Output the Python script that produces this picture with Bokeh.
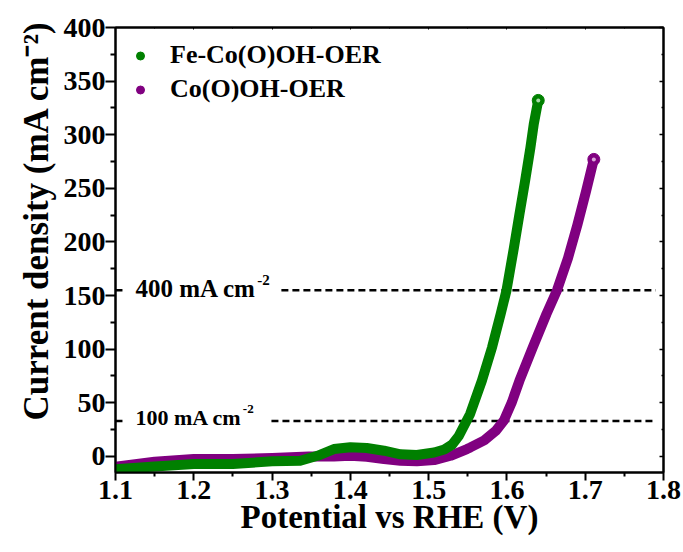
import numpy as np
from bokeh.plotting import figure
from bokeh.models import (Range1d, LinearAxis, FixedTicker, Label, Legend, LegendItem,
                          Title, CustomJSTickFormatter)
from bokeh.embed import file_html
from bokeh.resources import INLINE

# ---------------- data ----------------
series_names = ["Fe-Co(O)OH-OER", "Co(O)OH-OER"]

fe_x = [1.100, 1.150, 1.200, 1.250, 1.300, 1.336, 1.358, 1.379, 1.400, 1.421,
        1.443, 1.464, 1.485, 1.507, 1.520, 1.530, 1.5385, 1.553, 1.568, 1.581,
        1.592, 1.5995, 1.609, 1.616, 1.6232, 1.630, 1.6343, 1.640]
fe_y = [-12.0, -9.5, -7.0, -7.0, -4.6, -4.0, 0.6, 6.9, 8.5, 7.8,
        5.3, 2.0, 1.3, 3.7, 6.5, 11.0, 19.0, 39.6, 70.6, 101.7,
        132.8, 155.0, 195.0, 226.0, 257.0, 288.0, 310.0, 332.0]

co_x = [1.100, 1.150, 1.200, 1.250, 1.300, 1.347, 1.379, 1.400, 1.421, 1.443,
        1.464, 1.485, 1.507, 1.528, 1.549, 1.5533, 1.571, 1.586, 1.596, 1.606,
        1.616, 1.633, 1.6505, 1.664, 1.678, 1.690, 1.701, 1.711]
co_y = [-9.6, -5.0, -2.5, -2.5, -1.5, 0.0, 0.0, 0.6, -0.3, -2.5,
        -4.0, -4.5, -3.4, 0.6, 6.9, 8.4, 15.0, 24.0, 33.3, 50.0,
        70.6, 101.7, 132.8, 155.0, 185.0, 216.0, 247.0, 277.0]

ref_levels = [155.0, 33.0]
ref_texts = ["400 mA cm", "100 mA cm"]
ref_sup = "-2"

x_ticks = [1.1, 1.2, 1.3, 1.4, 1.5, 1.6, 1.7, 1.8]
y_ticks = [0, 50, 100, 150, 200, 250, 300, 350, 400]

# ---------------- styling ----------------
FONT = "Liberation Serif"
GREEN = "#008000"
PURPLE = "#800080"

x_minor = [round((a + b) / 2, 3) for a, b in zip(x_ticks[:-1], x_ticks[1:])]
y_minor = [(a + b) / 2 for a, b in zip(y_ticks[:-1], y_ticks[1:])]

p = figure(frame_width=548, frame_height=445,
           min_border_left=115, min_border_right=20,
           min_border_top=27, min_border_bottom=80,
           x_range=Range1d(1.1, 1.8), y_range=Range1d(-15, 400),
           output_backend="svg", toolbar_location=None,
           background_fill_color="white", border_fill_color="white")
p.grid.visible = False
p.outline_line_color = "black"
p.outline_line_width = 2

xt = FixedTicker(ticks=x_ticks, minor_ticks=x_minor)
yt = FixedTicker(ticks=y_ticks, minor_ticks=y_minor)

p.xaxis[0].ticker = xt
p.yaxis[0].ticker = yt


def style_axis(ax, out_major, out_minor, standoff):
    ax.axis_line_width = 2
    ax.major_tick_line_width = 2
    ax.minor_tick_line_width = 2
    ax.major_tick_out = out_major
    ax.major_tick_in = 0
    ax.minor_tick_out = out_minor
    ax.minor_tick_in = 0
    ax.major_label_text_font = FONT
    ax.major_label_text_font_style = "bold"
    ax.major_label_text_font_size = "28px"
    ax.major_label_text_color = "black"
    ax.major_label_standoff = standoff


style_axis(p.xaxis[0], 8, 4, 0)
style_axis(p.yaxis[0], 10, 5, 0)

# x title
p.xaxis[0].axis_label = "Potential vs RHE (V)"
p.xaxis[0].axis_label_text_font = FONT
p.xaxis[0].axis_label_text_font_style = "bold"
p.xaxis[0].axis_label_text_font_size = "33px"
p.xaxis[0].axis_label_text_color = "black"
p.xaxis[0].axis_label_standoff = -3

blank = CustomJSTickFormatter(code="return ''")
right = LinearAxis(ticker=yt, formatter=blank, axis_line_width=2, major_tick_in=4,
                   major_tick_out=0, minor_tick_in=2, minor_tick_out=0,
                   major_tick_line_width=1.5, minor_tick_line_width=1.5,
                   major_label_standoff=0)
top = LinearAxis(ticker=xt, formatter=blank, axis_line_width=2, major_tick_in=2,
                 major_tick_out=0, minor_tick_in=1, minor_tick_out=0,
                 major_tick_line_width=1, minor_tick_line_width=1,
                 major_label_standoff=0)
p.add_layout(right, "right")
p.add_layout(top, "above")

# y title (vertical, starts 52 px above the frame bottom as in the reference)
p.add_layout(Title(text="Current density (mA cm\u207b\u00b2)", align="left", offset=52,
                   text_font=FONT, text_font_style="bold", text_font_size="35px",
                   text_color="black", standoff=10), "left")

# ---------------- reference dashed lines (broken where their text sits) ----------------
gap_start = [1.1089, 1.1089]
gap_end = [1.3119, 1.2992]
line_end = 1.79
p.segment(x0=[1.1] * len(ref_levels) + gap_end, y0=ref_levels + ref_levels,
          x1=gap_start + [line_end] * len(ref_levels), y1=ref_levels + ref_levels,
          line_color="black", line_width=2.5, line_dash="7 4")

# ---------------- curves ----------------
p.line(co_x, co_y, line_color=PURPLE, line_width=10, line_cap="round", line_join="round")
p.line(fe_x, fe_y, line_color=GREEN, line_width=10, line_cap="round", line_join="round")

co_end = p.scatter([co_x[-1]], [co_y[-1]], size=12, fill_color=PURPLE, line_color=PURPLE)
p.scatter([co_x[-1]], [co_y[-1]], size=4, fill_color="#d9a6d9", line_color=None)
fe_end = p.scatter([fe_x[-1]], [fe_y[-1]], size=12, fill_color=GREEN, line_color=GREEN)
p.scatter([fe_x[-1]], [fe_y[-1]], size=4, fill_color="#a6d9a6", line_color=None)

legend = Legend(items=[LegendItem(label=series_names[0], renderers=[fe_end]),
                       LegendItem(label=series_names[1], renderers=[co_end])],
                location=(15, 368), label_text_font=FONT, label_text_font_style="bold",
                label_text_font_size="26px", label_text_color="black",
                glyph_width=20, glyph_height=27,
                label_height=27, label_standoff=20, spacing=4, padding=0, margin=0,
                border_line_color=None, background_fill_alpha=0)
p.add_layout(legend)

# ---------------- reference labels ----------------
main_sizes = [25, 22]
sup_sizes = [15, 13]
main_dy = [2, 4]
sup_dy = [10, 12]
for lvl, txt, ms, ss, mdy, sdy in zip(ref_levels, ref_texts, main_sizes, sup_sizes, main_dy, sup_dy):
    w = 4.832 * ms
    p.add_layout(Label(x=1.1, y=lvl, x_offset=20, y_offset=mdy, text=txt,
                       text_font=FONT, text_font_style="bold", text_font_size=f"{ms}px",
                       text_color="black", text_baseline="alphabetic"))
    p.add_layout(Label(x=1.1, y=lvl, x_offset=20 + w + 1, y_offset=sdy, text=ref_sup,
                       text_font=FONT, text_font_style="bold", text_font_size=f"{ss}px",
                       text_color="black", text_baseline="alphabetic"))

open("out.html", "w").write(file_html(p, INLINE))
